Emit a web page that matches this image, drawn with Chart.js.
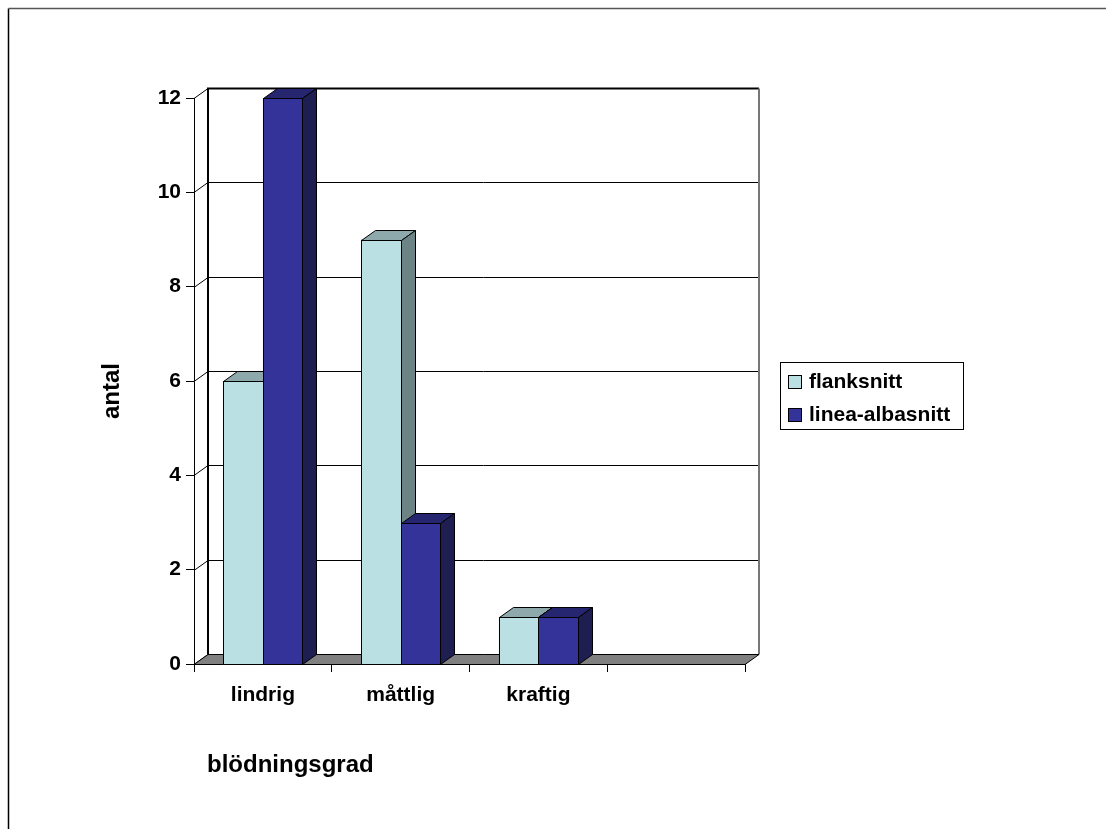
<!DOCTYPE html>
<html>
<head>
<meta charset="utf-8">
<script src="https://cdn.jsdelivr.net/npm/chart.js@4/dist/chart.umd.min.js"></script>
<style>
  html, body { margin: 0; padding: 0; background: #fff; }
  canvas { display: block; }
</style>
</head>
<body>
<canvas id="c" width="1106" height="829"></canvas>
<script>
// Bleeding grade per incision type
const categories = ['lindrig', 'måttlig', 'kraftig', ''];
const flanksnitt = [6, 9, 1, null];
const lineaAlbasnitt = [12, 3, 1, null];
const seriesNames = ['flanksnitt', 'linea-albasnitt'];
const yTitle = 'antal';
const xTitle = 'blödningsgrad';

const FONT = '"Liberation Sans", Arial, Helvetica, sans-serif';
const DX = 14, DY = 10;           // depth of the 3D box
const faces = [
  { front: '#BBE0E3', top: '#8DA9AB', side: '#6D8486' },
  { front: '#333399', top: '#262670', side: '#1E1E50' }
];

function poly(ctx, pts, fill) {
  ctx.beginPath();
  ctx.moveTo(pts[0][0], pts[0][1]);
  for (let i = 1; i < pts.length; i++) ctx.lineTo(pts[i][0], pts[i][1]);
  ctx.closePath();
  if (fill) { ctx.fillStyle = fill; ctx.fill(); }
  ctx.stroke();
}

const scene3d = {
  id: 'scene3d',
  beforeDraw(chart) {
    const ctx = chart.ctx;
    ctx.save();
    ctx.lineWidth = 1.5;
    ctx.strokeStyle = '#000';
    ctx.beginPath(); ctx.moveTo(8.5, 829); ctx.lineTo(8.5, 8.5); ctx.stroke();
    ctx.strokeStyle = '#555';
    ctx.beginPath(); ctx.moveTo(8.5, 8.5); ctx.lineTo(1106, 8.5); ctx.stroke();
    ctx.restore();
  },
  beforeDatasetsDraw(chart) {
    const { ctx, chartArea: a, scales: { y } } = chart;
    const L = a.left, R = a.right, B = a.bottom;
    const topB = Math.round(y.getPixelForValue(y.max)) + 0.5 - DY;
    const botB = Math.round(y.getPixelForValue(y.min)) + 0.5 - DY;
    ctx.save();
    // gridlines across the back wall, with their run along the side wall
    ctx.lineWidth = 1;
    ctx.strokeStyle = '#000';
    y.ticks.forEach(t => {
      const yf = Math.round(y.getPixelForValue(t.value)) + 0.5;
      const yb = yf - DY;
      ctx.beginPath();
      ctx.moveTo(L, yf);
      ctx.lineTo(L + DX, yb);
      ctx.lineTo(R + DX, yb);
      ctx.stroke();
    });
    // wall edges
    ctx.lineWidth = 2;
    ctx.strokeStyle = '#000';
    ctx.beginPath();
    ctx.moveTo(L + DX, botB); ctx.lineTo(L + DX, topB); ctx.lineTo(R + DX, topB);
    ctx.stroke();
    ctx.strokeStyle = '#777';
    ctx.beginPath();
    ctx.moveTo(R + DX, topB); ctx.lineTo(R + DX, botB);
    ctx.stroke();
    // floor
    ctx.lineWidth = 1;
    ctx.strokeStyle = '#000';
    const yf0 = Math.round(B) + 0.5;
    poly(ctx, [[L, yf0], [R, yf0], [R + DX, yf0 - DY], [L + DX, yf0 - DY]], '#808080');
    ctx.restore();
  },
  afterDatasetsDraw(chart) {
    const ctx = chart.ctx;
    ctx.save();
    ctx.lineWidth = 1;
    ctx.strokeStyle = '#000';
    chart.data.datasets.forEach((ds, di) => {
      const meta = chart.getDatasetMeta(di);
      const c = faces[di];
      meta.data.forEach((bar, i) => {
        if (ds.data[i] == null) return;
        const p = bar.getProps(['x', 'y', 'base', 'width'], true);
        const l = Math.round(p.x - p.width / 2) + 0.5;
        const r = Math.round(p.x + p.width / 2) + 0.5;
        const t = Math.round(p.y) + 0.5;
        const b = Math.round(p.base) + 0.5;
        poly(ctx, [[l, t], [r, t], [r, b], [l, b]], c.front);
        poly(ctx, [[l, t], [l + DX, t - DY], [r + DX, t - DY], [r, t]], c.top);
        poly(ctx, [[r, t], [r + DX, t - DY], [r + DX, b - DY], [r, b]], c.side);
      });
    });
    ctx.restore();
  },
  afterDraw(chart) {
    const ctx = chart.ctx;
    ctx.save();
    ctx.fillStyle = '#000';
    // axis titles
    ctx.font = 'bold 24px ' + FONT;
    ctx.textAlign = 'center';
    ctx.textBaseline = 'middle';
    ctx.save();
    ctx.translate(112, 391);
    ctx.rotate(-Math.PI / 2);
    ctx.fillText(yTitle, 0, 0);
    ctx.restore();
    ctx.textAlign = 'left';
    ctx.textBaseline = 'alphabetic';
    ctx.fillText(xTitle, 207, 772);
    // legend
    ctx.lineWidth = 1;
    ctx.strokeStyle = '#000';
    ctx.strokeRect(780.5, 362.5, 183, 67);
    ctx.font = 'bold 21px ' + FONT;
    chart.data.datasets.forEach((ds, di) => {
      const sy = 375 + di * 33;
      ctx.fillStyle = ds.backgroundColor;
      ctx.fillRect(788.5, sy + 0.5, 13, 13);
      ctx.strokeRect(788.5, sy + 0.5, 13, 13);
      ctx.fillStyle = '#000';
      ctx.fillText(ds.label, 809, sy + 13);
    });
    ctx.restore();
  }
};

new Chart(document.getElementById('c'), {
  type: 'bar',
  data: {
    labels: categories,
    datasets: [
      { label: seriesNames[0], data: flanksnitt, backgroundColor: faces[0].front, borderColor: '#000', borderWidth: 1 },
      { label: seriesNames[1], data: lineaAlbasnitt, backgroundColor: faces[1].front, borderColor: '#000', borderWidth: 1 }
    ]
  },
  options: {
    responsive: false,
    animation: false,
    devicePixelRatio: 1,
    layout: { padding: { left: 134, right: 361, top: 98, bottom: 105 } },
    datasets: { bar: { categoryPercentage: 0.574, barPercentage: 1.0 } },
    plugins: { legend: { display: false }, tooltip: { enabled: false } },
    scales: {
      x: {
        afterFit(s) { s.height = 60; },
        grid: { offset: true, drawOnChartArea: false, tickLength: 8, color: '#000' },
        border: { display: true, color: '#000', width: 1 },
        ticks: { color: '#000', padding: 11, font: { family: FONT, size: 21, weight: 'bold' }, maxRotation: 0 }
      },
      y: {
        min: 0, max: 12,
        afterFit(s) { s.width = 60; },
        grid: { drawOnChartArea: false, tickLength: 8, color: '#000' },
        border: { display: true, color: '#000', width: 1 },
        ticks: { stepSize: 2, color: '#000', padding: 5, font: { family: FONT, size: 21, weight: 'bold' } }
      }
    }
  },
  plugins: [scene3d]
});
</script>
</body>
</html>
